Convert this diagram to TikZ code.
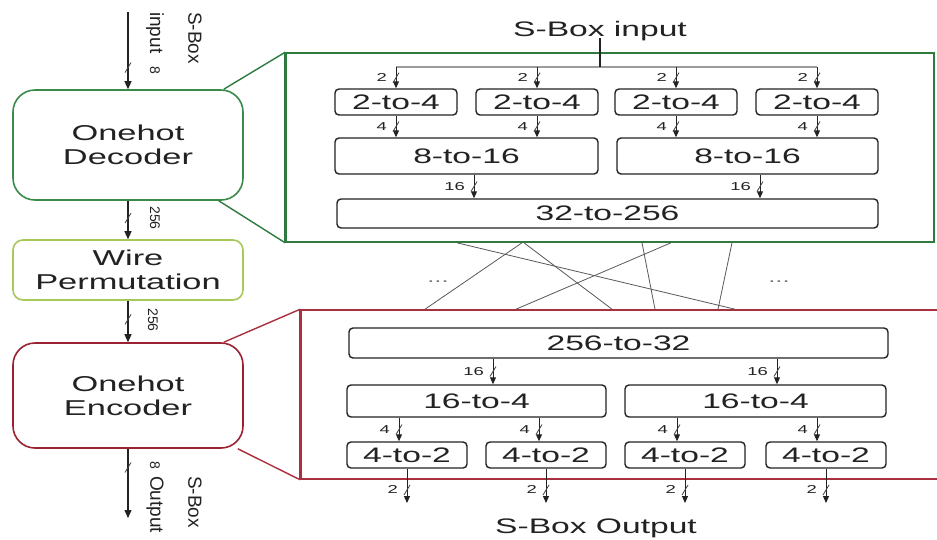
\documentclass[tikz,border=0pt]{standalone}
\usepackage{fontspec}
\setmainfont{Liberation Sans}[FakeStretch=1.6]
\newfontfamily\plainsans{Liberation Sans}
\usetikzlibrary{arrows.meta,positioning,calc}

\definecolor{decgreen}{HTML}{3A8A4A}
\definecolor{panelgreen}{HTML}{2F7A3E}
\definecolor{wiregreen}{HTML}{A8C85A}
\definecolor{encred}{HTML}{9A2233}
\definecolor{panelred}{HTML}{A8303F}
\definecolor{ink}{HTML}{222222}

% bus arrow with a width slash and a width label
\newcommand\busarrow[5][0.5]{%
  \draw[bus] #2 -- #3 coordinate[pos=#1] (tk);
  \draw[slash] ($(tk)+(-3,5)$) -- ($(tk)+(3,-5)$);
  \node[buswidth, left=#5pt of tk] {#4};
}

\begin{document}
\begin{tikzpicture}[x=1pt,y=-1pt,
  bigbox/.style={draw, line width=1.6pt, rounded corners=22pt, minimum width=230pt,
    text=ink, font=\fontsize{21.5}{24}\selectfont, align=center, fill=white},
  unit/.style={draw=ink, line width=1.4pt, rounded corners=4pt, fill=white, text=ink,
    font=\fontsize{21}{24}\selectfont, inner sep=0pt},
  panel/.style={draw, line width=1.6pt, inner sep=0pt},
  bus/.style={draw=ink, line width=0.9pt, -{Triangle[length=7pt,width=6pt]}},
  mainbus/.style={draw=ink, line width=1.1pt, -{Triangle[length=8pt,width=7pt]}},
  slash/.style={draw=ink!85, line width=0.8pt},
  buswidth/.style={text=ink, font=\fontsize{11.5}{13}\selectfont, inner sep=0pt},
  side/.style={text=ink, font=\plainsans\fontsize{19}{21}\selectfont, rotate=-90, inner sep=0pt},
  sidenum/.style={text=ink, font=\plainsans\fontsize{14}{16}\selectfont, rotate=-90, inner sep=0pt},
  xwire/.style={draw=ink!75, line width=0.8pt},
  title/.style={text=ink, font=\fontsize{21}{24}\selectfont, inner sep=0pt},
]
\useasboundingbox (0,0) rectangle (937,539);
\fill[white] (0,0) rectangle (937,539);

% ---------- expanded panels ----------
\node[panel, draw=panelgreen, minimum width=648pt, minimum height=189pt] (gp) at (610,147.5) {};
\draw[panelgreen, line width=3pt] (gp.north west) -- (gp.south west);
\node[panel, draw=panelred, minimum width=644pt, minimum height=169pt] (rp) at (623,394.5) {};
\draw[panelred, line width=3pt] (rp.north west) -- (rp.south west);

% ---------- left column ----------
\node[bigbox, draw=decgreen, minimum height=110pt] (dec) at (128,145) {Onehot\\Decoder};
\node[bigbox, draw=wiregreen, rounded corners=10pt, minimum height=60pt] (wire) at (128,270) {Wire\\Permutation};
\node[bigbox, draw=encred, minimum height=105pt] (enc) at (128,395.5) {Onehot\\Encoder};

\draw[panelgreen, line width=1.4pt] ([xshift=-20pt]dec.north east) -- (gp.north west);
\draw[panelgreen, line width=1.4pt] ([xshift=-25pt]dec.south east) -- (gp.south west);
\draw[panelred, line width=1.4pt] ([xshift=-20pt]enc.north east) -- (rp.north west);
\draw[panelred, line width=1.4pt] ([xshift=-6pt]enc.south east) -- (rp.south west);

\coordinate (inTop) at (128,12);
\coordinate (outEnd) at (128,518);
\draw[mainbus] (inTop) -- (dec.north) coordinate[pos=0.72] (t1);
\draw[slash] ($(t1)+(-3,5)$) -- ($(t1)+(3,-5)$);
\draw[mainbus] (dec.south) -- (wire.north) coordinate[pos=0.45] (t2);
\draw[slash] ($(t2)+(-3,5)$) -- ($(t2)+(3,-5)$);
\draw[mainbus] (wire.south) -- (enc.north) coordinate[pos=0.45] (t3);
\draw[slash] ($(t3)+(-3,5)$) -- ($(t3)+(3,-5)$);
\draw[mainbus] (enc.south) -- (outEnd) coordinate[pos=0.27] (t4);
\draw[slash] ($(t4)+(-3,5)$) -- ($(t4)+(3,-5)$);

\node[side, anchor=west] (inA) at (195,12) {S-Box};
\node[side, anchor=west] (inB) at (155,12) {input};
\node[sidenum] (inW) at (155,70) {8};
\node[sidenum] (w1) at (155,218) {256};
\node[sidenum] (w2) at (153,320) {256};
\node[sidenum] (outW) at (155,465) {8};
\node[side, anchor=west] (outB) at (155,476) {Output};
\node[side, anchor=west] (outA) at (195,476) {S-Box};

% ---------- decoder internals ----------
\node[title] (sbin) at (600,31) {S-Box input};
\coordinate (split) at (600,67);

\node[unit, minimum width=122pt, minimum height=26pt] (d1) at (396,102) {2-to-4};
\node[unit, minimum width=122pt, minimum height=26pt] (d2) at (537,102) {2-to-4};
\node[unit, minimum width=122pt, minimum height=26pt] (d3) at (676,102) {2-to-4};
\node[unit, minimum width=122pt, minimum height=26pt] (d4) at (817,102) {2-to-4};
\node[unit, minimum width=263pt, minimum height=36pt] (m1) at (466.5,156) {8-to-16};
\node[unit, minimum width=261pt, minimum height=36pt] (m2) at (747.5,156) {8-to-16};
\node[unit, minimum width=541pt, minimum height=29pt] (big1) at (607.5,213.5) {32-to-256};

\draw[ink!45, line width=1.3pt] (d1 |- split) -- (d4 |- split);
\draw[ink, line width=1.3pt] ([yshift=3pt]sbin.south) -- (split);
\busarrow{(d1 |- split)}{(d1.north)}{2}{9}
\busarrow{(d2 |- split)}{(d2.north)}{2}{9}
\busarrow{(d3 |- split)}{(d3.north)}{2}{9}
\busarrow{(d4 |- split)}{(d4.north)}{2}{9}
\busarrow{(d1.south)}{(d1.south |- m1.north)}{4}{9}
\busarrow{(d2.south)}{(d2.south |- m1.north)}{4}{9}
\busarrow{(d3.south)}{(d3.south |- m2.north)}{4}{9}
\busarrow{(d4.south)}{(d4.south |- m2.north)}{4}{9}
\busarrow{(474,0 |- m1.south)}{(474,0 |- big1.north)}{16}{9}
\busarrow{(760,0 |- m2.south)}{(760,0 |- big1.north)}{16}{9}

% ---------- wire permutation ----------
\draw[xwire] (457,0 |- gp.south) -- (735,0 |- rp.north);
\draw[xwire] (522,0 |- gp.south) -- (425,0 |- rp.north);
\draw[xwire] (524,0 |- gp.south) -- (612,0 |- rp.north);
\draw[xwire] (642,0 |- gp.south) -- (655,0 |- rp.north);
\draw[xwire] (671,0 |- gp.south) -- (516,0 |- rp.north);
\draw[xwire] (732,0 |- gp.south) -- (718,0 |- rp.north);
\node[text=ink!60, font=\fontsize{16}{18}\selectfont] (dotsL) at (438,282) {...};
\node[text=ink!60, font=\fontsize{16}{18}\selectfont] (dotsR) at (779,282) {...};

% ---------- encoder internals ----------
\node[unit, minimum width=539pt, minimum height=30pt] (big2) at (618.5,343) {256-to-32};
\node[unit, minimum width=259pt, minimum height=32pt] (n1) at (476.5,401) {16-to-4};
\node[unit, minimum width=261pt, minimum height=32pt] (n2) at (755.5,401) {16-to-4};
\node[unit, minimum width=120pt, minimum height=26pt] (e1) at (407,455) {4-to-2};
\node[unit, minimum width=120pt, minimum height=26pt] (e2) at (546,455) {4-to-2};
\node[unit, minimum width=120pt, minimum height=26pt] (e3) at (685,455) {4-to-2};
\node[unit, minimum width=120pt, minimum height=26pt] (e4) at (826,455) {4-to-2};

\busarrow{(493,0 |- big2.south)}{(493,0 |- n1.north)}{16}{9}
\busarrow{(777,0 |- big2.south)}{(777,0 |- n2.north)}{16}{9}
\busarrow{(399,0 |- n1.south)}{(399,0 |- e1.north)}{4}{9}
\busarrow{(539,0 |- n1.south)}{(539,0 |- e2.north)}{4}{9}
\busarrow{(677,0 |- n2.south)}{(677,0 |- e3.north)}{4}{9}
\busarrow{(817,0 |- n2.south)}{(817,0 |- e4.north)}{4}{9}

\coordinate (o1) at (407,503);
\coordinate (o2) at (546,503);
\coordinate (o3) at (685,503);
\coordinate (o4) at (826,503);
\busarrow[0.62]{(e1.south)}{(o1)}{2}{9}
\busarrow[0.62]{(e2.south)}{(o2)}{2}{9}
\busarrow[0.62]{(e3.south)}{(o3)}{2}{9}
\busarrow[0.62]{(e4.south)}{(o4)}{2}{9}

\node[title] (sbout) at (596,528) {S-Box Output};
\end{tikzpicture}
\end{document}
